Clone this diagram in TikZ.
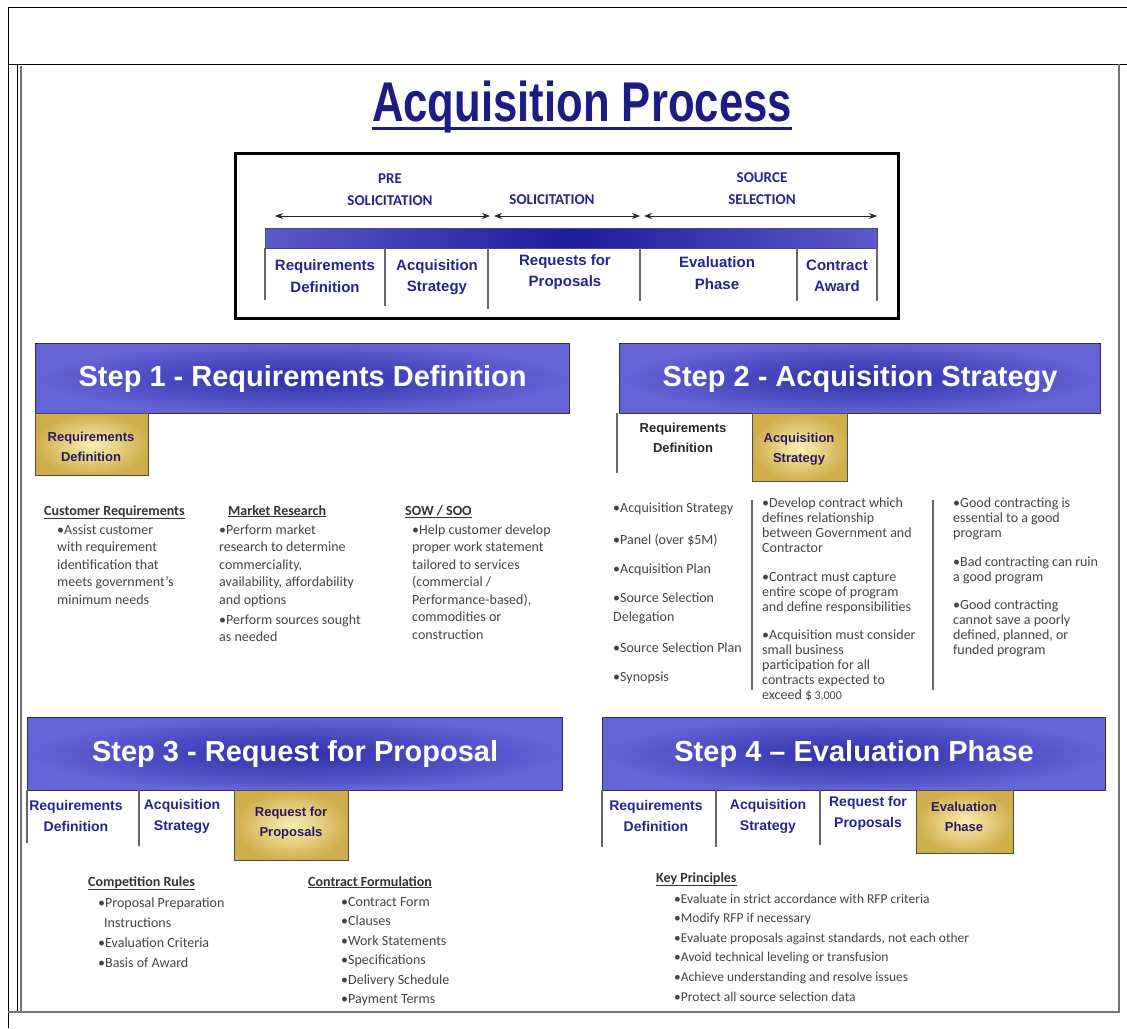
\documentclass[tikz,border=0pt]{standalone}
\usepackage{fontspec}
\setmainfont{Carlito}
\newfontfamily\arialf{Liberation Sans}
\newfontfamily\narrowf{Liberation Sans}[FakeStretch=0.78]
\usetikzlibrary{arrows.meta}

\definecolor{navy}{HTML}{1C1C82}
\definecolor{lblblue}{HTML}{25258A}
\definecolor{stepout}{HTML}{6464D6}
\definecolor{stepin}{HTML}{2E2EA8}
\definecolor{goldl}{HTML}{FAEFB4}
\definecolor{goldd}{HTML}{D0AE4C}
\definecolor{goldtxt}{HTML}{2A1A5C}
\definecolor{bodygray}{HTML}{444444}
\definecolor{barside}{HTML}{5A5ACC}
\definecolor{barmid}{HTML}{1C1C9E}

\newcommand\txtlines[5]{%
  \foreach \ln [count=\k from 0] in {#5}{%
    \node[#1,anchor=base west] at ({#2},{#3+#4*\k}) {\ln};}}

\tikzset{
  stephdr/.style={draw=black!80, line width=1.2pt, inner color=stepin, outer color=stepout, anchor=north west, inner sep=0},
  stepttl/.style={text=white, font=\arialf\bfseries\fontsize{29}{32}\selectfont, inner sep=0},
  goldbox/.style={draw=black!70, line width=1.2pt, inner color=goldl, outer color=goldd, anchor=north west, inner sep=0},
  goldlbl/.style={text=goldtxt, font=\arialf\bfseries\fontsize{13}{20}\selectfont, align=center, inner sep=0},
  celllbl/.style={text=lblblue, font=\arialf\bfseries\fontsize{14}{21}\selectfont, align=center, inner sep=0},
  phaselbl/.style={text=lblblue, font=\arialf\bfseries\fontsize{15}{21.5}\selectfont, align=center, inner sep=0},
  phasetop/.style={text=lblblue, font=\bfseries\fontsize{15}{22}\selectfont, align=center, inner sep=0},
  bodytxt/.style={text=bodygray, font=\fontsize{14}{17}\selectfont, inner sep=0},
  smalltxt/.style={text=bodygray, font=\fontsize{13.5}{16}\selectfont, inner sep=0},
  colhead/.style={text=black!80, font=\bfseries\fontsize{14}{17}\selectfont, inner sep=0},
  frameline/.style={draw=black, line width=1pt},
  imgframe/.style={draw=black!55, line width=1.6pt},
  divider/.style={draw=black!60, line width=1.3pt},
  phasearrow/.style={draw=black!85, line width=1pt, {Stealth[length=8pt,width=6pt]}-{Stealth[length=8pt,width=6pt]}}
}

\begin{document}
\begin{tikzpicture}[x=1pt,y=-1pt]
\useasboundingbox[fill=white] (0,0) rectangle (1127,1028);

% ---- outer frames ----
\draw[frameline] (1127,7) -- (8,7) -- (8,1028);
\draw[frameline] (8,64) -- (1127,64);
\draw[frameline] (17,64) -- (17,1012);
\draw[imgframe] (21,66) -- (21,1012);
\draw[imgframe] (8,1012) -- (1119,1012) -- (1119,64);

% ---- title ----
\node[text=navy, font=\narrowf\bfseries\fontsize{56}{60}\selectfont, anchor=base, inner sep=0] (title) at (582,121) {Acquisition Process};
\draw[navy, line width=3pt] (title.south west |- 0,128) -- (title.south east |- 0,128);

% ---- phase box ----
\node[draw=black, line width=3pt, anchor=north west, minimum width=663pt, minimum height=165pt, inner sep=0] (phase) at (234,152) {};
\node[phasetop] (pre) at (390,190) {PRE\\SOLICITATION};
\node[phasetop] (sol) at (552,200) {SOLICITATION};
\node[phasetop] (srcsel) at (762,189) {SOURCE\\SELECTION};
\coordinate (a1l) at (275,216); \coordinate (a1r) at (490,216);
\coordinate (a2l) at (494,216); \coordinate (a2r) at (640,216);
\coordinate (a3l) at (644,216); \coordinate (a3r) at (877,216);
\draw[phasearrow] (a1l) -- (a1r);
\draw[phasearrow] (a2l) -- (a2r);
\draw[phasearrow] (a3l) -- (a3r);
\node[draw=black!70, line width=0.8pt, left color=barside, right color=barside, middle color=barmid, anchor=north west, minimum width=612pt, minimum height=20pt, inner sep=0] (bar) at (265,228) {};
\draw[divider] (265,248) -- (265,300);
\draw[divider] (385,248) -- (385,306);
\draw[divider] (488,248) -- (488,309);
\draw[divider] (640,248) -- (640,301);
\draw[divider] (797,248) -- (797,301);
\draw[divider] (877,248) -- (877,301);
\node[phaselbl] (p1) at (325,276) {Requirements\\Definition};
\node[phaselbl] (p2) at (437,277) {Acquisition\\Strategy};
\node[phaselbl] (p3) at (565,272) {Requests for\\Proposals};
\node[phaselbl] (p4) at (717,273) {Evaluation\\Phase};
\node[phaselbl] (p5) at (837,276) {Contract\\Award};

% ---- step 1 ----
\node[stephdr, minimum width=534pt, minimum height=70pt] (s1) at (35,343) {};
\node[stepttl] (s1t) at (s1.center) {Step 1 - Requirements Definition};
\node[goldbox, minimum width=113pt, minimum height=62pt] (g1) at (35,413) {};
\node[goldlbl] (g1t) at (91,447) {Requirements\\Definition};

\node[colhead, anchor=base west] (h11) at (44,515) {\underline{Customer Requirements}};
\txtlines{bodytxt}{57}{534}{17.5}{•Assist customer, with requirement, identification that, meets government’s, minimum needs}
\node[colhead, anchor=base west] (h12) at (228,515) {\underline{Market Research}};
\txtlines{bodytxt}{219}{534}{17.5}{•Perform market, research to determine, {commerciality,}, {availability, affordability}, and options}
\txtlines{bodytxt}{219}{624}{17.5}{•Perform sources sought, as needed}
\node[colhead, anchor=base west] (h13) at (405,515) {\underline{SOW / SOO}};
\txtlines{bodytxt}{412}{534}{17.5}{•Help customer develop, proper work statement, tailored to services, {(commercial /}, {Performance-based),}, commodities or, construction}

% ---- step 2 ----
\node[stephdr, minimum width=481pt, minimum height=70pt] (s2) at (619,343) {};
\node[stepttl] (s2t) at (s2.center) {Step 2 - Acquisition Strategy};
\draw[divider] (617,413) -- (617,473);
\node[celllbl, text=black!85, font=\arialf\bfseries\fontsize{13}{20}\selectfont] (r2) at (683,438) {Requirements\\Definition};
\node[goldbox, minimum width=95pt, minimum height=68pt] (g2) at (752,413) {};
\node[goldlbl] (g2t) at (799,449) {Acquisition\\Strategy};

\txtlines{bodytxt}{613}{512}{0}{•Acquisition Strategy}
\txtlines{bodytxt}{613}{544}{0}{{•Panel (over \$5M)}}
\txtlines{bodytxt}{613}{573}{0}{•Acquisition Plan}
\txtlines{bodytxt}{613}{602}{19}{•Source Selection, Delegation}
\txtlines{bodytxt}{613}{652}{0}{•Source Selection Plan}
\txtlines{bodytxt}{613}{681}{0}{•Synopsis}
\draw[divider] (752,500) -- (752,690);
\txtlines{bodytxt}{762}{507}{15}{•Develop contract which, defines relationship, between Government and, Contractor}
\txtlines{bodytxt}{762}{581}{15}{•Contract must capture, entire scope of program, and define responsibilities}
\txtlines{bodytxt}{762}{639}{15}{•Acquisition must consider, small business, participation for all, contracts expected to, {exceed \$\,{\fontsize{12}{14}\selectfont 3,000}}}
\draw[divider] (933,500) -- (933,690);
\txtlines{bodytxt}{953}{507}{15}{•Good contracting is, essential to a good, program}
\txtlines{bodytxt}{953}{566}{15}{•Bad contracting can ruin, a good program}
\txtlines{bodytxt}{953}{609}{15}{•Good contracting, cannot save a poorly, {defined, planned, or}, funded program}

% ---- step 3 ----
\node[stephdr, minimum width=535pt, minimum height=73pt] (s3) at (27,717) {};
\node[stepttl] (s3t) at (s3.center) {Step 3 - Request for Proposal};
\draw[divider] (27,790) -- (27,843);
\draw[divider] (139,790) -- (139,846);
\node[celllbl] (c31) at (76,816) {Requirements\\Definition};
\node[celllbl] (c32) at (182,816) {Acquisition\\Strategy};
\node[goldbox, minimum width=114pt, minimum height=70pt] (g3) at (234,790) {};
\node[goldlbl] (g3t) at (291,823) {Request for\\Proposals};

\node[colhead, anchor=base west] (h31) at (88,886) {\underline{Competition Rules}};
\txtlines{bodytxt}{98}{907}{20}{•Proposal Preparation}
\txtlines{bodytxt}{104}{927}{20}{Instructions}
\txtlines{bodytxt}{98}{947}{20}{•Evaluation Criteria, •Basis of Award}
\node[colhead, anchor=base west] (h32) at (308,886) {\underline{Contract Formulation}};
\txtlines{bodytxt}{341}{906}{19.5}{•Contract Form, •Clauses, •Work Statements, •Specifications, •Delivery Schedule, •Payment Terms}

% ---- step 4 ----
\node[stephdr, minimum width=503pt, minimum height=73pt] (s4) at (602,717) {};
\node[stepttl] (s4t) at (s4.center) {Step 4 – Evaluation Phase};
\draw[divider] (602,790) -- (602,847);
\draw[divider] (716,790) -- (716,847);
\draw[divider] (820,790) -- (820,845);
\node[celllbl] (c41) at (656,816) {Requirements\\Definition};
\node[celllbl] (c42) at (768,816) {Acquisition\\Strategy};
\node[celllbl] (c43) at (868,813) {Request for\\Proposals};
\node[goldbox, minimum width=97pt, minimum height=63pt] (g4) at (916,790) {};
\node[goldlbl] (g4t) at (964,817) {Evaluation\\Phase};

\node[colhead, anchor=base west] (h41) at (656,882) {\underline{Key Principles}};
\txtlines{smalltxt}{674}{903}{19.6}{•Evaluate in strict accordance with RFP criteria, •Modify RFP if necessary, {•Evaluate proposals against standards, not each other}, •Avoid technical leveling or transfusion, •Achieve understanding and resolve issues, •Protect all source selection data}
\end{tikzpicture}
\end{document}
